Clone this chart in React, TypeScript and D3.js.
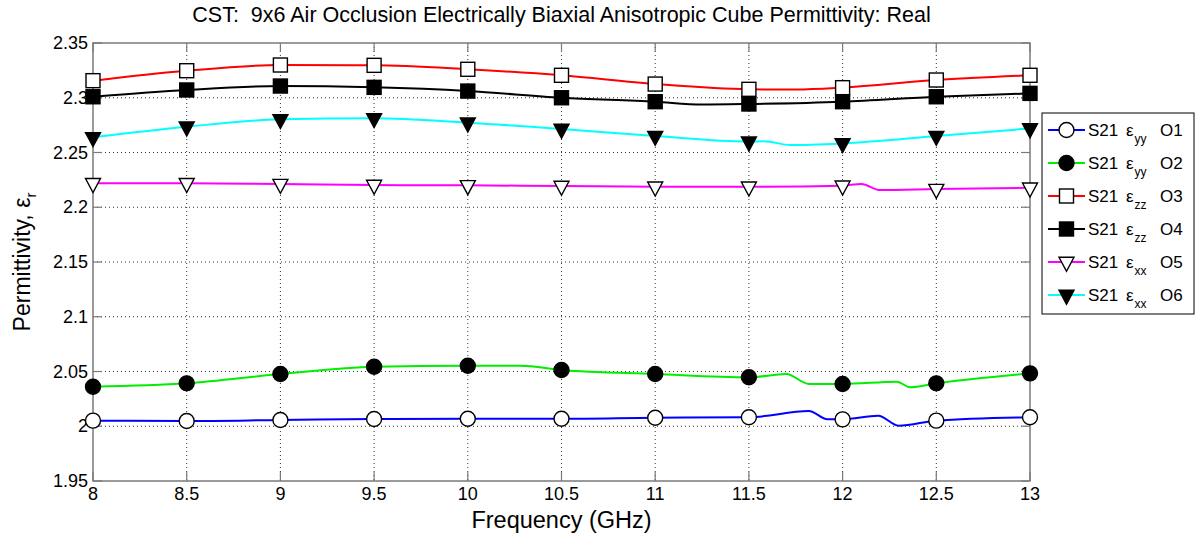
import React from 'react';
import * as d3 from 'd3';

const freqMarkers = [8, 8.5, 9, 9.5, 10, 10.5, 11, 11.5, 12, 12.5, 13];
const o1Values = [2.0051, 2.0048, 2.0057, 2.0066, 2.0069, 2.0068, 2.0078, 2.0082, 2.0063, 2.0051, 2.0082];
const o2Values = [2.0361, 2.0392, 2.0477, 2.0544, 2.0553, 2.0514, 2.0477, 2.0447, 2.0386, 2.0392, 2.0483];
const o3Values = [2.3156, 2.3247, 2.3299, 2.3296, 2.3260, 2.3205, 2.3125, 2.3077, 2.3092, 2.3162, 2.3205];
const o4Values = [2.3009, 2.3071, 2.3107, 2.3095, 2.3061, 2.3000, 2.2964, 2.2943, 2.2964, 2.3009, 2.3040];
const o5Values = [2.2219, 2.2219, 2.2212, 2.2203, 2.2200, 2.2194, 2.2188, 2.2188, 2.2197, 2.2166, 2.2178];
const o6Values = [2.2639, 2.2735, 2.2803, 2.2812, 2.2772, 2.2715, 2.2650, 2.2599, 2.2584, 2.2650, 2.2720];

// extra line detail points (freq, value) read between markers
const o1Detail: [number, number][] = [[11.82, 2.0139], [11.92, 2.0063], [12.19, 2.0096], [12.30, 2.0005]];
const o2Detail: [number, number][] = [[10.28, 2.0553], [11.70, 2.0477], [11.82, 2.0386], [12.29, 2.0407], [12.36, 2.0356]];
const o3Detail: [number, number][] = [[11.75, 2.3075]];
const o4Detail: [number, number][] = [[11.25, 2.2938]];
const o5Detail: [number, number][] = [[12.1, 2.2212], [12.2, 2.2157]];
const o6Detail: [number, number][] = [[11.58, 2.2603], [11.72, 2.2568]];

const xTicks = [8, 8.5, 9, 9.5, 10, 10.5, 11, 11.5, 12, 12.5, 13];
const yTicks = [1.95, 2, 2.05, 2.1, 2.15, 2.2, 2.25, 2.3, 2.35];

const seriesNames = ['O1', 'O2', 'O3', 'O4', 'O5', 'O6'];
const seriesSubs = ['yy', 'yy', 'zz', 'zz', 'xx', 'xx'];
const seriesColors = ['#0000ff', '#00ee00', '#ff0000', '#000000', '#ff00ff', '#00ffff'];
const seriesMarkers = ['circle', 'circle', 'square', 'square', 'tri', 'tri'];
const seriesFilled = [false, true, false, true, false, true];
const seriesValues = [o1Values, o2Values, o3Values, o4Values, o5Values, o6Values];
const seriesDetail = [o1Detail, o2Detail, o3Detail, o4Detail, o5Detail, o6Detail];

const FONT = '"Liberation Sans", Arial, Helvetica, sans-serif';

function Marker({ kind, x, y, filled }: { kind: string; x: number; y: number; filled: boolean }) {
  const fill = filled ? '#000' : '#fff';
  const sw = 1.4;
  if (kind === 'circle') return <circle cx={x} cy={y} r={7.5} fill={fill} stroke="#000" strokeWidth={sw} />;
  if (kind === 'square') return <rect x={x - 7} y={y - 7} width={14} height={14} fill={fill} stroke="#000" strokeWidth={sw} />;
  const pts = `${x - 7.5},${y - 4.7} ${x + 7.5},${y - 4.7} ${x},${y + 9.3}`;
  return <polygon points={pts} fill={fill} stroke="#000" strokeWidth={sw} strokeLinejoin="miter" />;
}

export default function App() {
  const W = 1199, H = 535;
  const L = 93, R = 1030, T = 43, B = 481;
  const x = d3.scaleLinear().domain([8, 13]).range([L, R]);
  const y = d3.scaleLinear().domain([1.95, 2.35]).range([B, T]);
  const line = d3.line<[number, number]>().x(d => x(d[0])).y(d => y(d[1])).curve(d3.curveMonotoneX);

  const gridX = xTicks.filter(t => t > 8 && t < 13);
  const gridY = yTicks.filter(t => t > 1.95 && t < 2.35);
  const axisColor = '#7a7a7a';
  const tickLen = 9;

  const legL = 1042, legR = 1194, legT = 113, legB = 314;
  const rowY = (i: number) => 130 + i * 33;

  return (
    <svg width={W} height={H} style={{ position: 'absolute', left: 0, top: 0, background: '#fff' }} fontFamily={FONT}>
      <rect x={0} y={0} width={W} height={H} fill="#fff" />
      <rect x={L} y={T} width={R - L} height={B - T} fill="#fff" />
      {/* grid */}
      {gridX.map(t => (
        <line key={'gx' + t} x1={x(t)} x2={x(t)} y1={T} y2={B} stroke="#333" strokeWidth={1} strokeDasharray="1,3" />
      ))}
      {gridY.map(t => (
        <line key={'gy' + t} x1={L} x2={R} y1={y(t)} y2={y(t)} stroke="#333" strokeWidth={1} strokeDasharray="1,3" />
      ))}
      {/* ticks */}
      {xTicks.map(t => (
        <g key={'xt' + t}>
          <line x1={x(t)} x2={x(t)} y1={B} y2={B - tickLen} stroke={axisColor} strokeWidth={1.2} />
          <line x1={x(t)} x2={x(t)} y1={T} y2={T + tickLen} stroke={axisColor} strokeWidth={1.2} />
          <text x={x(t)} y={B + 19} textAnchor="middle" fontSize={18} fill="#000">{String(t)}</text>
        </g>
      ))}
      {yTicks.map(t => (
        <g key={'yt' + t}>
          <line x1={L} x2={L + tickLen} y1={y(t)} y2={y(t)} stroke={axisColor} strokeWidth={1.2} />
          <line x1={R} x2={R - tickLen} y1={y(t)} y2={y(t)} stroke={axisColor} strokeWidth={1.2} />
          <text x={L - 5} y={y(t) + 6} textAnchor="end" fontSize={18} fill="#000">{String(t)}</text>
        </g>
      ))}
      {/* box */}
      <rect x={L} y={T} width={R - L} height={B - T} fill="none" stroke={axisColor} strokeWidth={1.5} />
      {/* series */}
      {seriesValues.map((vals, i) => {
        const pts: [number, number][] = freqMarkers.map((f, k) => [f, vals[k]] as [number, number])
          .concat(seriesDetail[i])
          .sort((a, b) => a[0] - b[0]);
        return (
          <g key={'s' + i}>
            <path d={line(pts) || ''} fill="none" stroke={seriesColors[i]} strokeWidth={2} />
            {freqMarkers.map((f, k) => (
              <Marker key={k} kind={seriesMarkers[i]} x={x(f)} y={y(vals[k])} filled={seriesFilled[i]} />
            ))}
          </g>
        );
      })}
      {/* title */}
      <text x={(L + R) / 2} y={22} textAnchor="middle" fontSize={21.5} fill="#000" style={{ whiteSpace: 'pre' }}>
        {'CST:  9x6 Air Occlusion Electrically Biaxial Anisotropic Cube Permittivity: Real'}
      </text>
      {/* x label */}
      <text x={(L + R) / 2} y={528} textAnchor="middle" fontSize={23.5} fill="#000">Frequency (GHz)</text>
      {/* y label */}
      <text transform={`translate(30, ${(T + B) / 2}) rotate(-90)`} textAnchor="middle" fontSize={23} fill="#000">
        Permittivity, ε<tspan fontSize={15} dy={6}>r</tspan>
      </text>
      {/* legend */}
      <rect x={legL} y={legT} width={legR - legL} height={legB - legT} fill="#fff" stroke="#000" strokeWidth={1} />
      {seriesNames.map((n, i) => {
        const cy = rowY(i);
        return (
          <g key={'lg' + i}>
            <line x1={1048} x2={1085} y1={cy} y2={cy} stroke={seriesColors[i]} strokeWidth={2} />
            <Marker kind={seriesMarkers[i]} x={1066.5} y={cy} filled={seriesFilled[i]} />
            <text x={1088} y={cy + 6} fontSize={17} fill="#000">S21</text>
            <text x={1126} y={cy + 6} fontSize={17} fill="#000">ε</text>
            <text x={1134.5} y={cy + 13} fontSize={12} fill="#000">{seriesSubs[i]}</text>
            <text x={1160} y={cy + 6} fontSize={17} fill="#000">{n}</text>
          </g>
        );
      })}
    </svg>
  );
}
